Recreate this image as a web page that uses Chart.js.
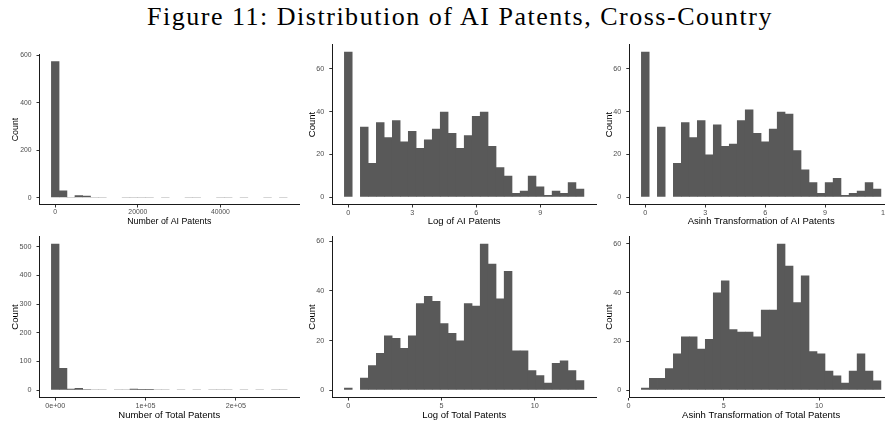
<!DOCTYPE html>
<html>
<head>
<meta charset="utf-8">
<script src="https://cdn.jsdelivr.net/npm/chart.js@4.4.1/dist/chart.umd.min.js"></script>
<style>
  html, body { margin: 0; padding: 0; background: #fff; }
  body { width: 885px; height: 421px; overflow: hidden; position: relative; }
  #fig-title {
    position: absolute; top: 1px; left: 0; width: 920px; text-align: center;
    font-family: "Liberation Serif", "Times New Roman", serif; font-size: 26px;
    line-height: 32px; color: #000; white-space: nowrap;
  }
  canvas { position: absolute; }
</style>
</head>
<body>
<div id="fig-title">Figure 11: Distribution of AI Patents, Cross-Country</div>
<canvas id="p1"></canvas>
<canvas id="p2"></canvas>
<canvas id="p3"></canvas>
<canvas id="p4"></canvas>
<canvas id="p5"></canvas>
<canvas id="p6"></canvas>
<script>
// ---- Histogram counts (30 bins per variable) ----
const aiPatentCounts      = [575, 30, 3, 10, 8, 1, 1, 0, 0, 1, 1, 1, 1, 0, 1, 0, 0, 1, 1, 0, 2, 1, 1, 0, 1, 0, 0, 1, 0, 1];
const logAiCounts         = [68, 0, 33, 16, 35, 28, 36, 26, 31, 23, 27, 32, 40, 30, 23, 29, 38, 40, 24, 14, 10, 2, 3, 10, 5, 1, 3, 2, 7, 4];
const asinhAiCounts       = [68, 0, 33, 0, 16, 35, 28, 36, 20, 34, 24, 25, 36, 41, 30, 26, 32, 40, 39, 22, 13, 7, 2, 7, 9, 1, 2, 3, 7, 4];
const totalPatentCounts   = [510, 77, 5, 8, 3, 1, 1, 0, 2, 1, 5, 4, 4, 1, 1, 0, 1, 0, 1, 0, 1, 1, 1, 0, 1, 0, 1, 0, 1, 1];
const logTotalCounts      = [1, 0, 5, 10, 15, 22, 21, 17, 22, 35, 38, 36, 27, 23, 20, 35, 34, 59, 51, 37, 48, 16, 16, 8, 6, 3, 11, 12, 8, 4];
const asinhTotalCounts    = [1, 5, 5, 9, 15, 22, 22, 17, 21, 40, 45, 25, 24, 24, 22, 33, 33, 60, 51, 36, 47, 16, 15, 8, 6, 3, 8, 15, 8, 4];

// ---- Bin layout: centre of the first bin and bin width ----
const aiPatentBins    = { first: 0,     width: 1904.5 };
const logAiBins       = { first: 0,     width: 0.3745 };
const asinhAiBins     = { first: 0,     width: 0.4 };
const totalPatentBins = { first: 0,     width: 8709 };
const logTotalBins    = { first: 0,     width: 0.4285 };
const asinhTotalBins  = { first: 0.881, width: 0.4193 };

// ---- Tick values and labels ----
const aiPatentXTicks      = [0, 20000, 40000];
const aiPatentXLabels     = ['0', '20000', '40000'];
const totalPatentXTicks   = [0, 100000, 200000];
const totalPatentXLabels  = ['0e+00', '1e+05', '2e+05'];
const logAiXTicks         = [0, 3, 6, 9];
const asinhAiXTicks       = [0, 3, 6, 9, 12];
const logTotalXTicks      = [0, 5, 10];
const asinhTotalXTicks    = [0, 5, 10];
const aiPatentYTicks      = [0, 200, 400, 600];
const totalPatentYTicks   = [0, 100, 200, 300, 400, 500];
const aiYTicks            = [0, 20, 40, 60];
const totalYTicks         = [0, 20, 40, 60];

// ---- Axis titles ----
const xTitles = [
  'Number of AI Patents', 'Log of AI Patents', 'Asinh Transformation of AI Patents',
  'Number of Total Patents', 'Log of Total Patents', 'Asinh Transformation of Total Patents'
];
const yTitle = 'Count';

const FONT = '"Liberation Sans", Arial, Helvetica, sans-serif';
const BAR_FILL = '#595959';

// Panel geometry: canvas box and the plotting rectangle inside it (page pixels)
const panels = [
  { id: 'p1', box: [0, 40, 300, 188],   plot: [39.5, 54.5, 299, 204.5],  counts: aiPatentCounts,    bins: aiPatentBins,    xt: aiPatentXTicks,    xl: aiPatentXLabels,   yt: aiPatentYTicks,    title: xTitles[0], tickSize: 6.8, titleSize: 8.8, yTitleX: 15.7, xTitleY: 221.5 },
  { id: 'p2', box: [300, 40, 297, 188], plot: [332.3, 44.5, 596, 204.5], counts: logAiCounts,       bins: logAiBins,       xt: logAiXTicks,       xl: null,              yt: aiYTicks,          title: xTitles[1], tickSize: 7.2, titleSize: 9.5, yTitleX: 312.7, xTitleY: 221.5 },
  { id: 'p3', box: [597, 40, 296, 188], plot: [629.3, 44.5, 893, 204.5], counts: asinhAiCounts,     bins: asinhAiBins,     xt: asinhAiXTicks,     xl: null,              yt: aiYTicks,          title: xTitles[2], tickSize: 7.2, titleSize: 9.5, yTitleX: 609,   xTitleY: 221.5 },
  { id: 'p4', box: [0, 230, 300, 191],  plot: [39.5, 236.5, 299, 397.5], counts: totalPatentCounts, bins: totalPatentBins, xt: totalPatentXTicks, xl: totalPatentXLabels, yt: totalPatentYTicks, title: xTitles[3], tickSize: 7.2, titleSize: 9.5, yTitleX: 15.7,  xTitleY: 415 },
  { id: 'p5', box: [300, 230, 297, 191],plot: [332.3, 236.5, 596, 397.5],counts: logTotalCounts,    bins: logTotalBins,    xt: logTotalXTicks,    xl: null,              yt: totalYTicks,       title: xTitles[4], tickSize: 7.2, titleSize: 9.5, yTitleX: 312.7, xTitleY: 415 },
  { id: 'p6', box: [597, 230, 296, 191],plot: [629.3, 236.5, 893, 397.5],counts: asinhTotalCounts,  bins: asinhTotalBins,  xt: asinhTotalXTicks,  xl: null,              yt: totalYTicks,       title: xTitles[5], tickSize: 7.2, titleSize: 9.5, yTitleX: 609,   xTitleY: 415 }
];

// Fixed-tick helper
function fixedTicks(values) {
  return function (scale) { scale.ticks = values.map(v => ({ value: v })); };
}

panels.forEach(p => {
  const [cx, cy, cw, ch] = p.box;
  const [pl, pt, pr, pb] = p.plot;
  const canvas = document.getElementById(p.id);
  canvas.width = cw; canvas.height = ch;
  canvas.style.left = cx + 'px'; canvas.style.top = cy + 'px';

  // histogram bars as {x: bin centre, y: count}
  const points = p.counts.map((c, i) => ({ x: p.bins.first + i * p.bins.width, y: c }));

  // ggplot-style limits: bin extent and count range padded by 5%
  const lo = p.bins.first - p.bins.width / 2;
  const hi = p.bins.first + (p.counts.length - 0.5) * p.bins.width;
  const xPad = (hi - lo) * 0.05;
  const yMaxData = Math.max(...p.counts);
  const yPad = yMaxData * 0.05;

  const titleLH = p.titleSize * 1.2;
  const yAxisWidth = pl - cx;
  const xAxisHeight = (cy + ch) - pb;

  new Chart(canvas, {
    type: 'bar',
    data: {
      datasets: [{
        data: points,
        backgroundColor: BAR_FILL,
        borderWidth: 0,
        inflateAmount: 0,
        // slight horizontal overlap so neighbouring bins join without seams
        barPercentage: 1.06,
        categoryPercentage: 1
      }]
    },
    options: {
      responsive: false,
      animation: false,
      devicePixelRatio: 1,
      layout: { padding: { left: 0, top: pt - cy, right: (cx + cw) - pr, bottom: 0 } },
      plugins: { legend: { display: false }, tooltip: { enabled: false } },
      scales: {
        x: {
          type: 'linear',
          offset: false,
          min: lo - xPad, max: hi + xPad,
          afterBuildTicks: fixedTicks(p.xt),
          afterFit(s) { s.height = xAxisHeight; s.paddingLeft = 0; s.paddingRight = 0; },
          border: { display: true, color: '#1a1a1a', width: 1 },
          grid: { display: true, offset: false, drawOnChartArea: false, drawTicks: true, tickLength: 3, color: '#333333', lineWidth: 1 },
          ticks: {
            autoSkip: false, maxRotation: 0, padding: 1, color: '#4d4d4d',
            font: { family: FONT, size: p.tickSize },
            callback: (v) => { const k = p.xt.indexOf(v); return p.xl ? p.xl[k] : String(v); }
          },
          title: {
            display: true, text: p.title, color: '#000',
            font: { family: FONT, size: p.titleSize },
            padding: { top: 0, bottom: (cy + ch) - p.xTitleY - titleLH / 2 }
          }
        },
        y: {
          type: 'linear',
          min: -yPad, max: yMaxData + yPad,
          afterBuildTicks: fixedTicks(p.yt),
          afterFit(s) { s.width = yAxisWidth; s.paddingTop = 0; s.paddingBottom = 0; },
          border: { display: true, color: '#1a1a1a', width: 1 },
          grid: { display: true, drawOnChartArea: false, drawTicks: true, tickLength: 3, color: '#333333', lineWidth: 1 },
          ticks: { padding: 5, color: '#4d4d4d', font: { family: FONT, size: p.tickSize } },
          title: {
            display: true, text: yTitle, color: '#000',
            font: { family: FONT, size: p.titleSize },
            padding: { top: (p.yTitleX - cx) - titleLH / 2, bottom: 0 }
          }
        }
      }
    }
  });
});

// Stretch the heading to its full printed width
(function () {
  const el = document.getElementById('fig-title');
  const span = document.createElement('span');
  span.textContent = el.textContent; el.textContent = ''; el.appendChild(span);
  const target = 626;
  const w = span.getBoundingClientRect().width;
  const n = span.textContent.length;
  span.style.letterSpacing = ((target - w) / n) + 'px';
})();
</script>
</body>
</html>
